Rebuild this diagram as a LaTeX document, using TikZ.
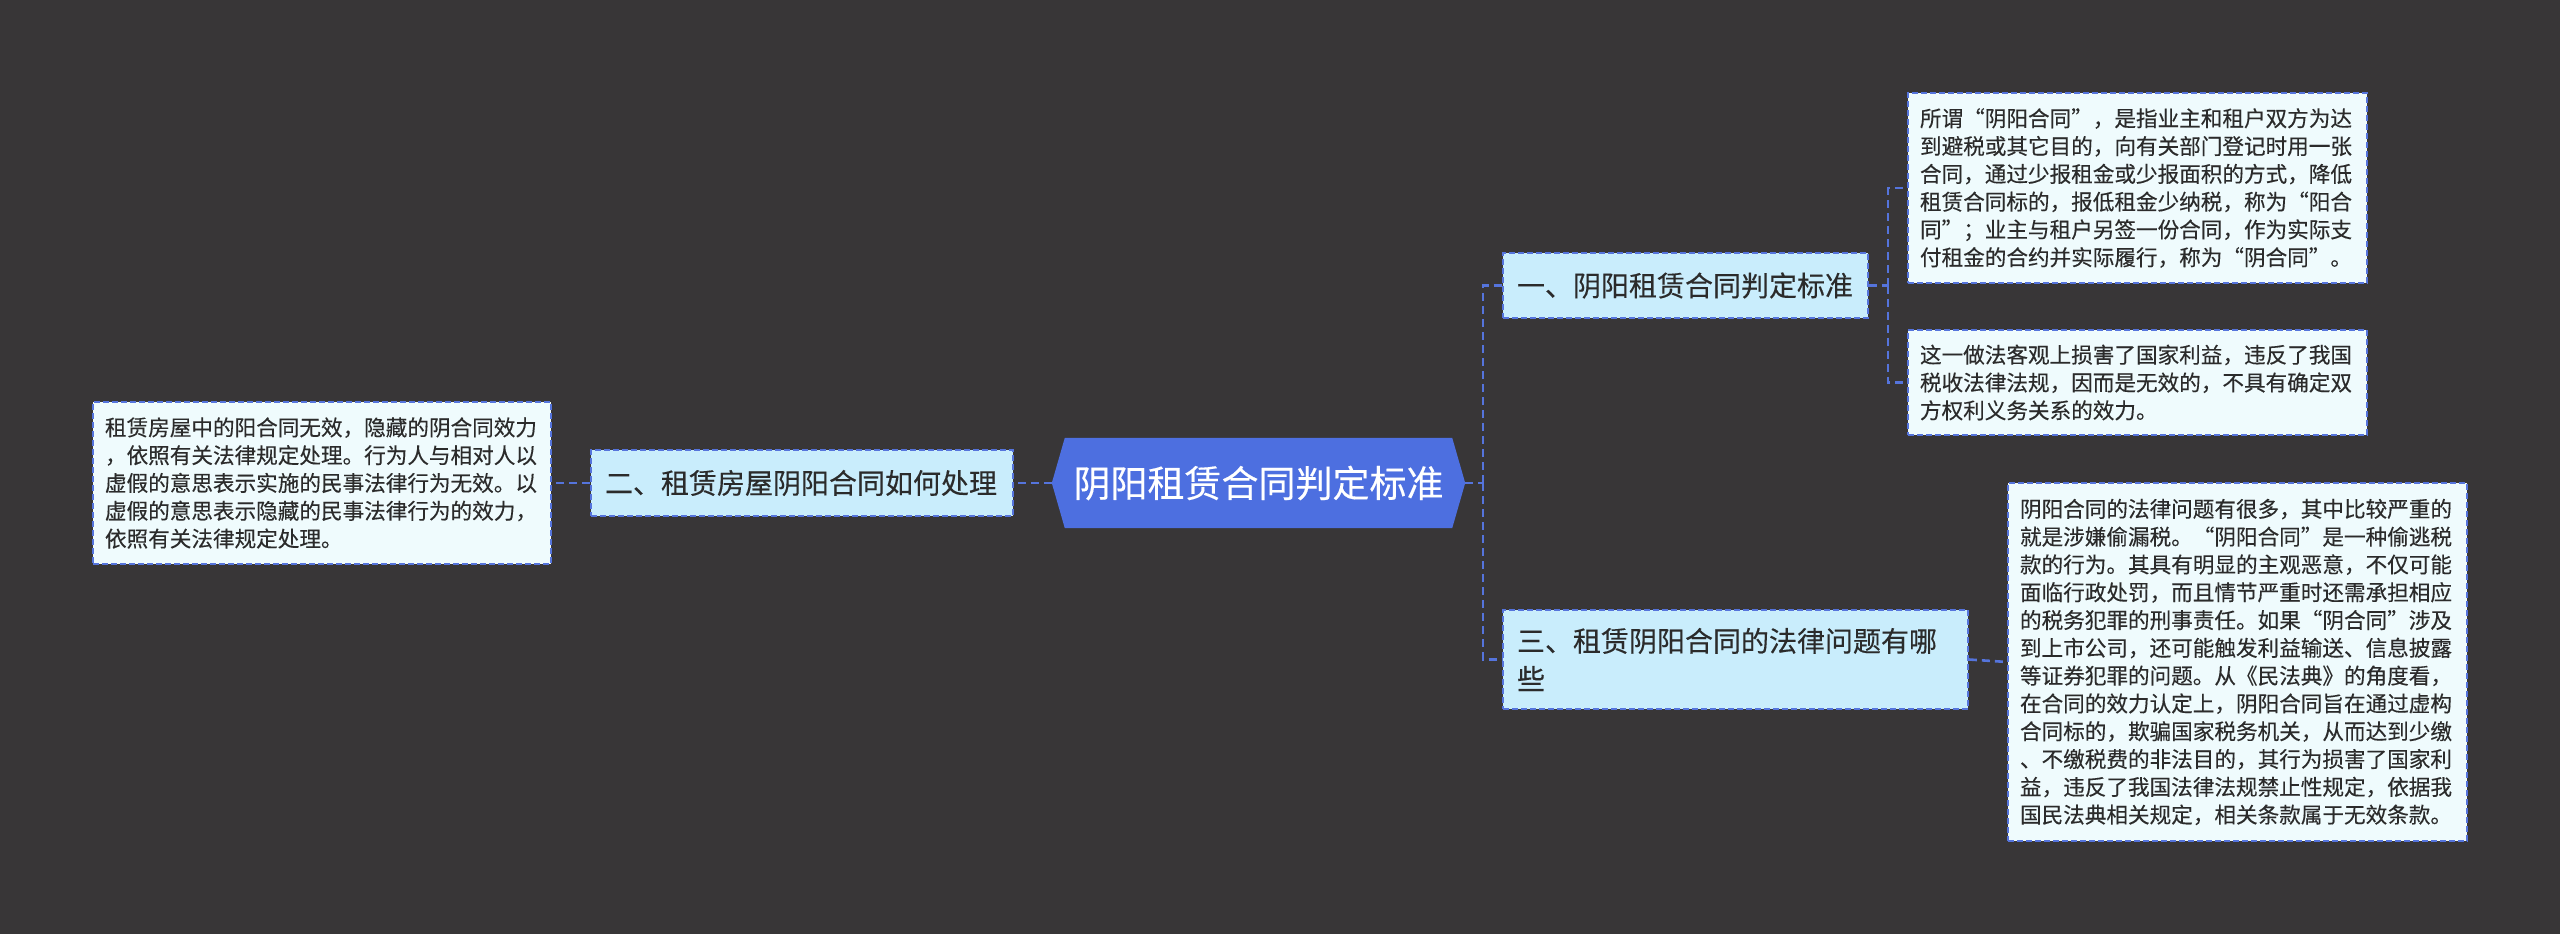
\documentclass[tikz,border=0pt]{standalone}
\usepackage{fontspec}
\setmainfont{Noto Sans CJK SC}[FakeBold=0.3]
\definecolor{bgc}{HTML}{383637}
\definecolor{rootc}{HTML}{4D6FE0}
\definecolor{linec}{HTML}{5574DC}
\definecolor{branchc}{HTML}{C9EDFC}
\definecolor{leafc}{HTML}{EFFBFD}
\definecolor{txtc}{HTML}{2B2B2B}
\tikzset{
  conn/.style={draw=linec, line width=2.6pt, dash pattern=on 8pt off 5pt},
  branchbox/.style={draw=linec, line width=1.8pt, dash pattern=on 6pt off 3pt, fill=branchc,
    text=txtc, inner xsep=14pt, inner ysep=0pt, align=left,
    font=\fontsize{28}{38}\selectfont},
  leafbox/.style={draw=linec, line width=1.6pt, dash pattern=on 6pt off 3pt, fill=leafc,
    text=txtc, inner xsep=12pt, inner ysep=0pt, align=left,
    font=\fontsize{21.6}{27.8}\selectfont},
}
\begin{document}
\begin{tikzpicture}[x=1pt,y=1pt]
\fill[bgc] (0,0) rectangle (2560,-934);
\useasboundingbox (0,0) rectangle (2560,-934);

% root
\node[minimum width=413pt, minimum height=90pt, inner sep=0pt] (root) at (1258.5,-483) {};
\fill[rootc] (root.west) -- ([xshift=13pt]root.north west) -- ([xshift=-13pt]root.north east)
  -- (root.east) -- ([xshift=-13pt]root.south east) -- ([xshift=13pt]root.south west) -- cycle;
\node[text=white, font=\fontsize{37}{44}\selectfont, inner sep=0pt] (roottext) at (root) {阴阳租赁合同判定标准};

% branches
\node[branchbox, text width=337pt, minimum height=65pt] (b1) at (1685.5,-285.5) {一、阴阳租赁合同判定标准};
\node[branchbox, text width=394pt, minimum height=66pt] (b2) at (802,-483) {二、租赁房屋阴阳合同如何处理};
\node[branchbox, text width=437pt, minimum height=99pt] (b3) at (1735.5,-659.5) {三、租赁阴阳合同的法律问题有哪\\些};

% leaves
\node[leafbox, text width=434pt, minimum height=162pt] (lL) at (322,-483) {租赁房屋中的阳合同无效，隐藏的阴合同效力\\，依照有关法律规定处理。行为人与相对人以\\虚假的意思表示实施的民事法律行为无效。以\\虚假的意思表示隐藏的民事法律行为的效力，\\依照有关法律规定处理。};
\node[leafbox, text width=435pt, minimum height=190pt] (l1) at (2137.5,-188) {所谓“阴阳合同”，是指业主和租户双方为达\\到避税或其它目的，向有关部门登记时用一张\\合同，通过少报租金或少报面积的方式，降低\\租赁合同标的，报低租金少纳税，称为“阳合\\同”；业主与租户另签一份合同，作为实际支\\付租金的合约并实际履行，称为“阴合同”。};
\node[leafbox, text width=435pt, minimum height=105pt] (l2) at (2137.5,-382.5) {这一做法客观上损害了国家利益，违反了我国\\税收法律法规，因而是无效的，不具有确定双\\方权利义务关系的效力。};
\node[leafbox, text width=435pt, minimum height=358pt] (l3) at (2237.5,-662) {阴阳合同的法律问题有很多，其中比较严重的\\就是涉嫌偷漏税。“阴阳合同”是一种偷逃税\\款的行为。其具有明显的主观恶意，不仅可能\\面临行政处罚，而且情节严重时还需承担相应\\的税务犯罪的刑事责任。如果“阴合同”涉及\\到上市公司，还可能触发利益输送、信息披露\\等证券犯罪的问题。从《民法典》的角度看，\\在合同的效力认定上，阴阳合同旨在通过虚构\\合同标的，欺骗国家税务机关，从而达到少缴\\、不缴税费的非法目的，其行为损害了国家利\\益，违反了我国法律法规禁止性规定，依据我\\国民法典相关规定，相关条款属于无效条款。};

% connectors
\coordinate (j1) at (1483,-483);
\coordinate (j2) at (1888,-285.5);
\draw[conn] (root.east) -- (j1);
\draw[conn] (j1) |- (b1.west);
\draw[conn] (j1) |- (b3.west);
\draw[conn] (root.west) -- (b2.east);
\draw[conn] (b2.west) -- (lL.east);
\draw[conn] (b1.east) -- (j2);
\draw[conn] (j2) |- (l1.west);
\draw[conn] (j2) |- (l2.west);
\draw[conn] (b3.east) -- (l3.west);
\end{tikzpicture}
\end{document}
